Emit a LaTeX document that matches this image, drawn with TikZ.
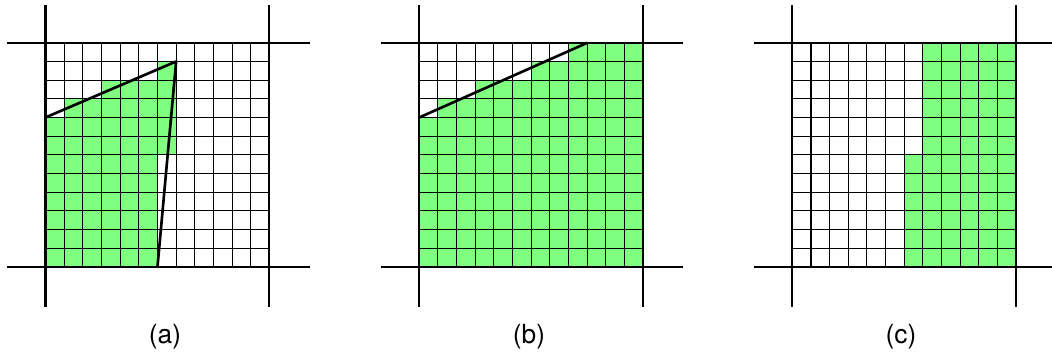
\documentclass[tikz,border=0pt]{standalone}
\usepackage{fontspec}
\setmainfont{TeX Gyre Heros}
\usepackage{tikz}
\definecolor{cellgreen}{RGB}{128,255,128}
\tikzset{
  gridline/.style={line width=0.6pt, color=black},
  frameline/.style={line width=1.15pt, color=black},
  edgeline/.style={line width=1.5pt, color=black, line join=round},
  covered/.style={fill=cellgreen, draw=none},
  caption/.style={font=\fontsize{15}{17}\selectfont, inner sep=0pt}
}
\begin{document}
\begin{tikzpicture}
  \useasboundingbox (0,0) rectangle (21.04,7.2);
  % Panel (a): triangle edges and covered cells
  \begin{scope}[shift={(0.91,1.864)}, x=0.3733cm, y=0.3733cm]
    \fill[covered] (0,0) -- (6,0) -- (6,6) -- (7,6) -- (7,11) -- (6,11) -- (6,10) -- (3,10)
      -- (3,9) -- (1,9) -- (1,8) -- (0,8) -- cycle;
    \foreach \i in {1,...,11} {
      \draw[gridline] (\i,0) -- (\i,12);
      \draw[gridline] (0,\i) -- (12,\i);
    }
    % Frame lines
    \draw[frameline] (-2.05,0) -- (14.15,0);
    \draw[frameline] (-2.05,12) -- (14.15,12);
    \draw[frameline] (0,-2.15) -- (0,14.05);
    \draw[frameline] (12,-2.15) -- (12,14.05);
    % Edges
    \coordinate (aleft) at (0,8);
    \coordinate (atop) at (7,11);
    \coordinate (abot) at (6,0);
    \draw[edgeline] (aleft) -- (atop) -- (abot);
  \end{scope}
  % Panel (b)
  \begin{scope}[shift={(8.386,1.864)}, x=0.3733cm, y=0.3733cm]
    \fill[covered] (0,0) -- (12,0) -- (12,12) -- (8,12) -- (8,11) -- (6,11) -- (6,10) -- (3,10)
      -- (3,9) -- (1,9) -- (1,8) -- (0,8) -- cycle;
    \foreach \i in {1,...,11} {
      \draw[gridline] (\i,0) -- (\i,12);
      \draw[gridline] (0,\i) -- (12,\i);
    }
    \draw[frameline] (-2.05,0) -- (14.15,0);
    \draw[frameline] (-2.05,12) -- (14.15,12);
    \draw[frameline] (0,-2.15) -- (0,14.05);
    \draw[frameline] (12,-2.15) -- (12,14.05);
    \coordinate (bleft) at (0,8);
    \coordinate (btop) at (9,12);
    \draw[edgeline] (bleft) -- (btop);
  \end{scope}
  % Panel (c)
  \begin{scope}[shift={(15.846,1.864)}, x=0.3733cm, y=0.3733cm]
    \fill[covered] (6,0) -- (12,0) -- (12,12) -- (7,12) -- (7,6) -- (6,6) -- cycle;
    \foreach \i in {1,...,11} {
      \draw[gridline] (\i,0) -- (\i,12);
      \draw[gridline] (0,\i) -- (12,\i);
    }
    \draw[frameline] (-2.05,0) -- (14.15,0);
    \draw[frameline] (-2.05,12) -- (14.15,12);
    \draw[frameline] (0,-2.15) -- (0,14.05);
    \draw[frameline] (12,-2.15) -- (12,14.05);
  \end{scope}
  % Captions
  \node[caption] (capa) at (3.30,0.46) {(a)};
  \node[caption] (capb) at (10.58,0.46) {(b)};
  \node[caption] (capc) at (18.02,0.46) {(c)};
\end{tikzpicture}
\end{document}
